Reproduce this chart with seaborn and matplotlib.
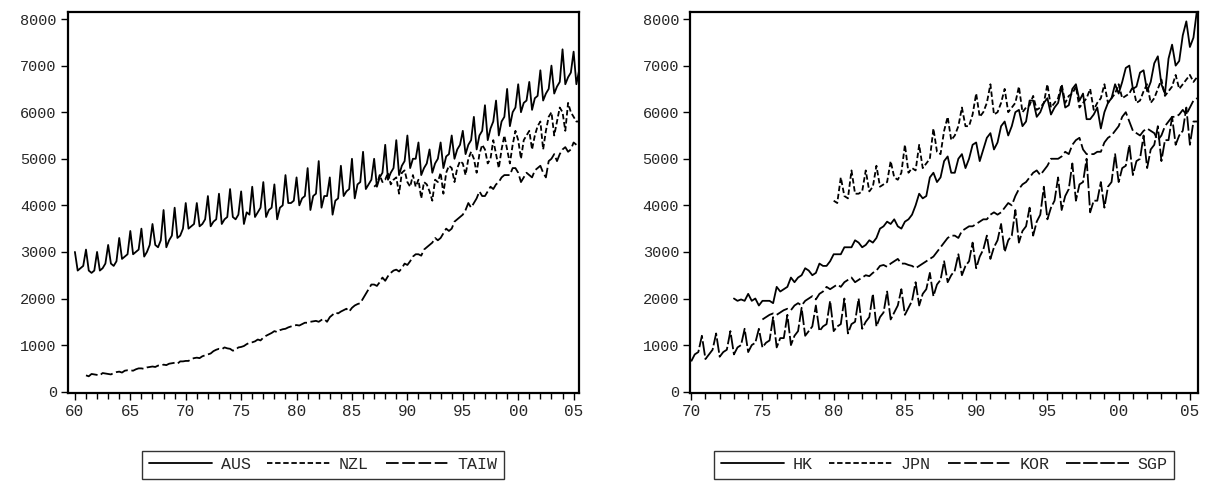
import numpy as np
import pandas as pd
import matplotlib
matplotlib.use("Agg")
import matplotlib.pyplot as plt
import seaborn as sns

# Quarterly values, one row per year (Q1..Q4)
AUS_START = 1960
AUS = [3000,2600,2650,2700, 3050,2600,2550,2600, 3000,2600,2650,2750, 3150,2750,2700,2800,
       3300,2850,2900,2950, 3450,2950,3000,3050, 3500,2900,3000,3150, 3600,3150,3100,3250,
       3900,3100,3250,3350, 3950,3300,3350,3500, 4050,3500,3550,3600, 4050,3550,3600,3700,
       4200,3550,3650,3700, 4250,3600,3700,3750, 4350,3750,3700,3800, 4300,3600,3850,3800,
       4400,3750,3850,3950, 4500,3750,3900,3950, 4450,3700,3950,4000, 4650,4050,4050,4100,
       4600,4000,4150,4200, 4800,3900,4200,4250, 4950,3950,4200,4200, 4600,3800,4100,4150,
       4850,4200,4300,4350, 5000,4150,4450,4500, 5150,4350,4450,4550, 5000,4400,4600,4700,
       5300,4550,4700,4800, 5400,4650,4850,4950, 5500,4800,5000,5000, 5350,4650,4800,4900,
       5200,4700,4900,5000, 5350,4800,5050,5100, 5500,5000,5200,5300, 5600,5100,5300,5400,
       5900,5200,5500,5600, 6150,5400,5650,5800, 6250,5500,5800,5900, 6500,5700,6000,6100,
       6600,6000,6200,6250, 6650,6050,6300,6350, 6900,6250,6400,6500, 7000,6400,6550,6650,
       7350,6600,6750,6850, 7300,6600,6900,6950]
NZL_START = 1987
NZL = [4400,4450,4650,4500, 4550,4700,4450,4550, 4600,4250,4700,4750, 4500,4400,4650,4400,
       4550,4150,4500,4450, 4300,4100,4550,4500, 4700,4250,4700,4850, 4800,4500,4800,4950,
       4900,4650,5000,5150, 5000,4700,5100,5300, 5200,4900,5000,5400, 5100,4800,5200,5500,
       5200,4900,5300,5600, 5400,5000,5400,5500, 5600,5200,5500,5700, 5800,5200,5600,5900,
       6000,5500,5800,6100, 6000,5600,6200,6000, 5900,5800,5800]
TAIW_START = 1961
TAIW = [350,330,380,370, 360,350,400,390, 380,370,400,420, 430,410,450,460, 460,450,480,500,
        500,490,520,530, 540,530,560,560, 580,570,600,610, 620,600,650,650, 660,660,700,720,
        730,720,760,780, 800,820,870,900, 920,910,950,930, 920,880,900,950, 960,980,1020,1050,
        1060,1080,1120,1100, 1160,1200,1230,1260, 1300,1280,1320,1340, 1350,1380,1400,1420,
        1430,1420,1450,1480, 1480,1500,1510,1520, 1500,1540,1560,1500, 1600,1650,1700,1680,
        1720,1750,1780,1720, 1800,1850,1880,1900, 2000,2100,2200,2300, 2300,2270,2350,2450,
        2380,2480,2550,2600, 2620,2580,2650,2750, 2720,2800,2900,2950, 2950,2920,3050,3100,
        3150,3200,3300,3250, 3300,3400,3500,3450, 3500,3650,3700,3750, 3800,3900,4050,3950,
        4050,4150,4300,4200, 4200,4300,4400,4350, 4450,4500,4600,4650, 4650,4650,4800,4800,
        4700,4500,4600,4700, 4650,4600,4750,4800, 4850,4700,4600,4950, 5000,5100,4950,5100,
        5200,5250,5150,5200, 5350,5300]

HK_START = 1973
HK = [2000,1950,1980,1950, 2100,1950,2000,1850, 1950,1950,1950,1900, 2250,2150,2200,2250,
      2450,2350,2450,2500, 2650,2600,2500,2550, 2750,2700,2700,2800, 2950,2950,2950,3100,
      3100,3100,3250,3200, 3100,3150,3250,3200, 3300,3500,3550,3650, 3600,3700,3550,3500,
      3650,3700,3800,4000, 4250,4150,4200,4600, 4700,4500,4600,4950, 5050,4700,4700,5000,
      5100,4800,5000,5300, 5350,4950,5200,5450, 5550,5200,5350,5700, 5800,5500,5700,6000,
      6050,5700,5800,6250, 6250,5900,6000,6200, 6300,5950,6100,6200, 6550,6100,6150,6500,
      6600,6250,6400,5850, 5850,5950,6100,5650, 6000,6200,6300,6600, 6400,6650,6950,7000,
      6500,6550,6850,6900, 6450,6650,7050,7200, 6600,6400,7150,7450, 7000,7100,7650,7950,
      7400,7600,8200]
JPN_START = 1980
JPN = [4100,4050,4600,4200, 4150,4750,4250,4250, 4300,4750,4300,4400, 4850,4400,4450,4500,
       4950,4600,4550,4700, 5300,4700,4800,4750, 5300,4800,4900,5000, 5650,5150,5100,5600,
       5900,5400,5500,5700, 6100,5700,5700,5950, 6400,5900,6000,6200, 6600,5950,6000,6200,
       6500,6000,6100,6200, 6550,6000,6100,6150, 6350,6050,6100,6200, 6600,6100,6200,6300,
       6600,6200,6350,6400, 6550,6100,6200,6300, 6500,6050,6200,6300, 6600,6200,6300,6400,
       6600,6300,6350,6400, 6550,6200,6250,6450, 6600,6200,6300,6500, 6700,6350,6450,6550,
       6800,6500,6600,6700, 6800,6650,6750]
KOR_START = 1975
KOR = [1550,1600,1650,1680, 1650,1700,1750,1780, 1750,1850,1900,1850, 1950,2000,2050,1980,
       2100,2150,2250,2200, 2250,2300,2250,2350, 2400,2450,2350,2400, 2450,2500,2480,2550,
       2600,2700,2720,2680, 2750,2800,2850,2750, 2750,2720,2700,2650, 2700,2750,2800,2850,
       2900,3000,3100,3200, 3300,3350,3350,3300, 3450,3500,3550,3550, 3600,3650,3700,3700,
       3800,3850,3800,3850, 3950,4050,4000,4200, 4350,4450,4500,4600, 4700,4750,4650,4750,
       4850,5000,5000,5000, 5050,5150,5100,5300, 5400,5450,5200,5100, 5100,5100,5150,5150,
       5350,5450,5500,5600, 5700,5900,6000,5800, 5600,5550,5500,5600, 5650,5600,5550,5400,
       5500,5700,5800,5900, 5900,5950,6050,5950, 6100,6250,6300]
SGP_START = 1970
SGP = [650,800,850,1200, 700,800,900,1250, 750,850,900,1300, 800,950,1000,1350,
       850,1000,1050,1350, 950,1050,1100,1600, 950,1150,1150,1650, 1000,1200,1300,1800,
       1200,1300,1400,1850, 1300,1400,1450,1950, 1300,1400,1450,2000, 1250,1450,1500,2000,
       1350,1500,1600,2100, 1400,1600,1700,2150, 1550,1700,1850,2200, 1650,1800,1950,2350,
       1850,2100,2200,2550, 2050,2300,2400,2800, 2350,2500,2600,2950, 2500,2700,2800,3200,
       2650,2900,3050,3350, 2850,3100,3250,3600, 3000,3250,3350,3900, 3200,3450,3550,3950,
       3350,3650,3800,4400, 3700,3950,4100,4600, 3900,4200,4350,4900, 4100,4450,4500,5000,
       3850,4100,4100,4500, 3950,4400,4500,5100, 4500,4800,4850,5300, 4650,4950,5000,5500,
       4800,5200,5300,5700, 4950,5400,5400,5900, 5300,5500,5600,6100, 5300,5800,5800]

def frame(name, start, vals):
    t = start + np.arange(len(vals)) * 0.25
    return pd.DataFrame({"t": t, "v": vals, "s": name})

sns.set_theme(style="white")
plt.rcParams["font.family"] = ["Liberation Mono", "DejaVu Sans Mono"]

fig = plt.figure(figsize=(12.13, 4.82), dpi=100)
axL = fig.add_axes([0.056, 0.185, 0.421, 0.79])
axR = fig.add_axes([0.569, 0.185, 0.419, 0.79])

def draw(ax, series, dashes, xlim, start):
    df = pd.concat([frame(n, s, v) for n, s, v in series], ignore_index=True)
    names = [n for n, _, _ in series]
    sns.lineplot(data=df, x="t", y="v", hue="s", style="s", hue_order=names, style_order=names,
                 palette=["black"] * len(names), dashes=dashes, linewidth=1.3, ax=ax, legend=True)
    ax.set_xlim(*xlim)
    ax.set_ylim(-25, 8150)
    ax.set_xlabel(""); ax.set_ylabel("")
    ax.set_yticks(range(0, 8001, 1000))
    ax.set_yticklabels([str(v) for v in range(0, 8001, 1000)], fontsize=11)
    maj = list(range(start, 2006, 5))
    ax.set_xticks(maj)
    ax.set_xticklabels([f"{m % 100:02d}" for m in maj], fontsize=11.5)
    ax.set_xticks(range(start, 2006), minor=True)
    ax.tick_params(axis="both", which="both", direction="out", length=5, width=1, color="black",
                   bottom=True, left=True, pad=3)
    ax.tick_params(axis="x", which="minor", length=4)
    for sp in ax.spines.values():
        sp.set_color("black"); sp.set_linewidth(1.6)
    h, l = ax.get_legend_handles_labels()
    ax.legend(h, l, loc="upper center", bbox_to_anchor=(0.5, -0.13), ncol=len(names),
              frameon=True, fancybox=False, edgecolor="black", fontsize=12, handlelength=3.8,
              columnspacing=1.0, borderpad=0.4, handletextpad=0.5)
    ax.get_legend().get_frame().set_linewidth(1.0)

draw(axL, [("AUS", AUS_START, AUS), ("NZL", NZL_START, NZL), ("TAIW", TAIW_START, TAIW)],
     {"AUS": "", "NZL": (3, 1.5), "TAIW": (7, 2)}, (1959.37, 2005.45), 1960)
draw(axR, [("HK", HK_START, HK), ("JPN", JPN_START, JPN), ("KOR", KOR_START, KOR), ("SGP", SGP_START, SGP)],
     {"HK": "", "JPN": (3, 1.5), "KOR": (7, 2), "SGP": (8, 1.5)}, (1969.93, 2005.6), 1970)

fig.savefig("out.png", dpi=100)
